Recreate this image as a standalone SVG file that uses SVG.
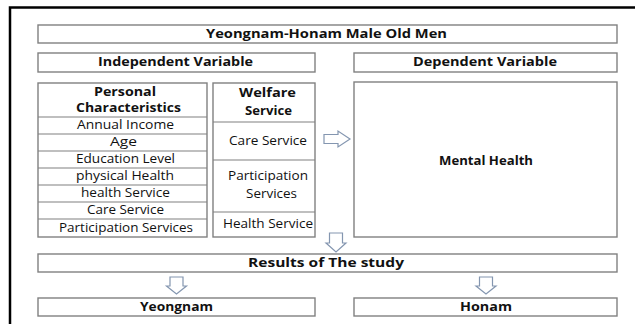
<svg xmlns="http://www.w3.org/2000/svg" width="639" height="324" viewBox="0 0 639 324">
<style>
.box{fill:#ffffff;stroke:#808080;stroke-width:1.4}
.div{stroke:#808080;stroke-width:1.2;fill:none}
.b{font-family:"Open Sans","Liberation Sans",sans-serif;font-weight:bold;font-size:12px;fill:#111;text-anchor:middle}
.r{font-family:"Open Sans","Liberation Sans",sans-serif;font-size:12.5px;fill:#111;text-anchor:middle}
.arr{fill:#ffffff;stroke:#8496b0;stroke-width:1.2;stroke-linejoin:miter}
</style>
<rect width="639" height="324" fill="#ffffff"/>
<path d="M635,7.5 H10 V324" fill="none" stroke="#000" stroke-width="2.5"/>

<g id="title">
<rect class="box" x="38" y="25" width="579" height="18"/>
<text class="b" x="326.5" y="38" textLength="241" lengthAdjust="spacingAndGlyphs">Yeongnam-Honam Male Old Men</text>
</g>
<g id="independent">
<rect class="box" x="38" y="53" width="277" height="19"/>
<text class="b" x="175.5" y="66" textLength="155" lengthAdjust="spacingAndGlyphs">Independent Variable</text>
</g>
<g id="dependent">
<rect class="box" x="354" y="53" width="263" height="19"/>
<text class="b" x="485" y="66" textLength="144" lengthAdjust="spacingAndGlyphs">Dependent Variable</text>
</g>

<g id="personal">
<rect class="box" x="38" y="83" width="169" height="154"/>
<path class="div" d="M38,117H207M38,134H207M38,151H207M38,168H207M38,185H207M38,202H207M38,219H207"/>
<text class="b" x="125" y="96" textLength="62" lengthAdjust="spacingAndGlyphs">Personal</text>
<text class="b" x="128.5" y="112" textLength="105" lengthAdjust="spacingAndGlyphs">Characteristics</text>
<text class="r" x="125.5" y="129" textLength="97" lengthAdjust="spacingAndGlyphs">Annual Income</text>
<text class="r" x="123.5" y="146" textLength="27" lengthAdjust="spacingAndGlyphs">Age</text>
<text class="r" x="125.5" y="163" textLength="99" lengthAdjust="spacingAndGlyphs">Education Level</text>
<text class="r" x="125" y="180" textLength="98" lengthAdjust="spacingAndGlyphs">physical Health</text>
<text class="r" x="125.5" y="197" textLength="89" lengthAdjust="spacingAndGlyphs">health Service</text>
<text class="r" x="125.5" y="214" textLength="77" lengthAdjust="spacingAndGlyphs">Care Service</text>
<text class="r" x="126" y="231.5" textLength="134" lengthAdjust="spacingAndGlyphs">Participation Services</text>
</g>

<g id="welfare">
<rect class="box" x="213" y="83" width="102" height="154"/>
<path class="div" d="M213,122H315M213,160H315M213,212H315"/>
<text class="b" x="267.5" y="97" textLength="57" lengthAdjust="spacingAndGlyphs">Welfare</text>
<text class="b" x="268.5" y="115" textLength="47" lengthAdjust="spacingAndGlyphs">Service</text>
<text class="r" x="268" y="144.5" textLength="78" lengthAdjust="spacingAndGlyphs">Care Service</text>
<text class="r" x="268" y="179.5" textLength="80" lengthAdjust="spacingAndGlyphs">Participation</text>
<text class="r" x="271.5" y="197.5" textLength="51" lengthAdjust="spacingAndGlyphs">Services</text>
<text class="r" x="268" y="227.5" textLength="90" lengthAdjust="spacingAndGlyphs">Health Service</text>
</g>

<g id="mental">
<rect class="box" x="354" y="82" width="263" height="155"/>
<text class="b" x="486" y="165" textLength="94" lengthAdjust="spacingAndGlyphs">Mental Health</text>
</g>

<g id="results">
<rect class="box" x="38" y="254" width="579" height="18"/>
<text class="b" x="326" y="267" textLength="156" lengthAdjust="spacingAndGlyphs">Results of The study</text>
</g>
<g id="yeongnam">
<rect class="box" x="38" y="298" width="277" height="18"/>
<text class="b" x="176.5" y="311" textLength="73" lengthAdjust="spacingAndGlyphs">Yeongnam</text>
</g>
<g id="honam">
<rect class="box" x="354" y="298" width="263" height="18"/>
<text class="b" x="486" y="311" textLength="52" lengthAdjust="spacingAndGlyphs">Honam</text>
</g>

<g id="connectors">
<path class="arr" d="M324,134.5H338V131L350,139L338,147V143.5H324Z"/>
<path class="arr" d="M329.5,233H342.5V243H346L336,252L326,243H329.5Z"/>
<path class="arr" d="M170,277H183V286H186.5L176.5,294L166.5,286H170Z"/>
<path class="arr" d="M479.5,277H492.5V286H496L486,294L476,286H479.5Z"/>
</g>
</svg>
